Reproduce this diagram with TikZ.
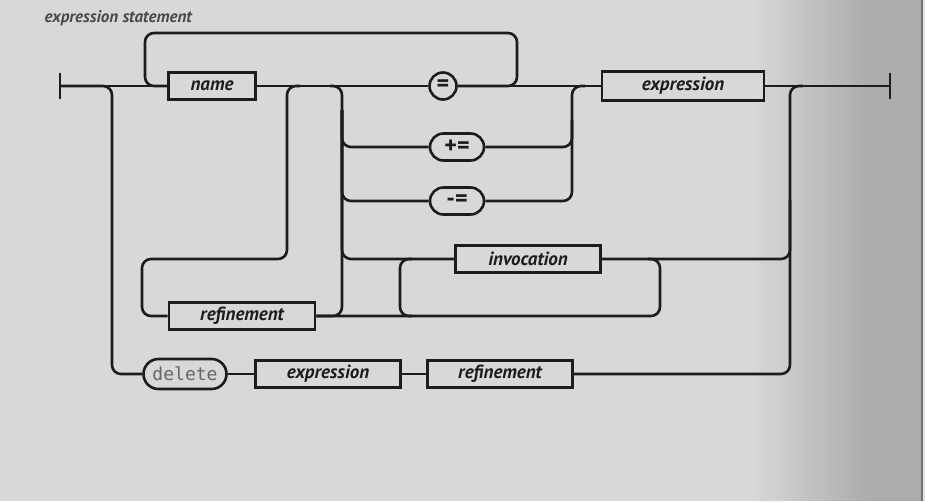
\documentclass[tikz,border=0pt]{standalone}
\usepackage{fontspec}
\setsansfont{PT Sans}
\newfontfamily\monofont{DejaVu Sans Mono}
\usetikzlibrary{positioning, shapes, arrows.meta}
\definecolor{paper}{RGB}{216,216,214}
\definecolor{paperdark}{RGB}{172,172,172}
\definecolor{ink}{RGB}{28,28,28}
\tikzset{
    rule/.style = {rectangle, draw=ink, line width=2.6pt, fill=paper, minimum width=86pt,
                        minimum height=27pt, inner sep=0pt, text=ink,
                        font=\fontsize{19}{19}\selectfont\sffamily\bfseries\itshape},
    literal/.style = {rectangle, rounded corners=13.5pt, draw=ink, line width=2.6pt, fill=paper,
                        minimum height=27pt, inner sep=0pt, text=ink, font=\fontsize{24}{24}\selectfont\sffamily\bfseries}
,
    track/.style = {draw=ink, line width=2.6pt, rounded corners=9pt}
}
\begin{document}
\begin{tikzpicture}[x=1pt, y=-1pt]
		\useasboundingbox (0,0) rectangle (925,501);
		\fill [paper] (0,0) rectangle (925,501);
		\foreach \i in {0,...,23} {
			\pgfmathtruncatemacro{\pct}{100*\i/23}
			\fill [paperdark!\pct!paper] (750+5*\i,0) rectangle (756+5*\i,501);
		}
		\fill [paperdark] (870,0) rectangle (921,501);
		\fill [black!55] (921,0) rectangle (923,501);
		\fill [paper!70!white] (923,0) rectangle (925,501);
		\node (title) [anchor=base west, text=ink!80, font=\fontsize{17}{17}\selectfont\sffamily\bfseries\itshape] at (41,22) {expression statement};
		\node (name) [rule, minimum width=87pt] at (212,86) {name};
		\node (eq) [literal, minimum width=27pt] at (443,86) {=};
		\node (plus) [literal, minimum width=54pt] at (457,147) {+=};
		\node (minus) [literal, minimum width=54pt] at (457,201) {-=};
		\node (expr) [rule, minimum width=162pt, minimum height=29pt] at (683,86) {expression};
		\node (inv) [rule, minimum width=145pt] at (528,259) {invocation};
		\node (ref) [rule, minimum width=146pt] at (242,316) {refinement};
		\node (del) [literal, minimum width=83pt, minimum height=30pt, rounded corners=15pt, text=black!60,
			font=\fontsize{18}{18}\selectfont\monofont] at (185,374) {delete};
		\node (dexpr) [rule, minimum width=145pt] at (328,374) {expression};
		\node (dref) [rule, minimum width=145pt] at (500,374) {refinement};
		\coordinate (start) at (60,86);
		\coordinate (stop) at (890,86);
		\coordinate (backtl) at (145,33);
		\coordinate (backbr) at (517,86);
		\coordinate (delc) at (112,374);
		\coordinate (refsplit) at (300,86);
		\coordinate (refmid) at (287,259);
		\coordinate (refleft) at (142,316);
		\coordinate (chl) at (342,86);
		\coordinate (chlin) at (330,86);
		\coordinate (chmid) at (342,110);
		\coordinate (chr) at (572,86);
		\coordinate (chrout) at (585,86);
		\coordinate (chrmid) at (572,120);
		\coordinate (invlt) at (412,259);
		\coordinate (looplb) at (400,316);
		\coordinate (looplbout) at (412,316);
		\coordinate (invrt) at (648,259);
		\coordinate (loopbr) at (660,316);
		\coordinate (outtop) at (790,86);
		\coordinate (outafter) at (803,86);
		\coordinate (outmid) at (790,200);
		\draw [track, rounded corners=0pt] ([yshift=13pt]start) -- ([yshift=-13pt]start);
		\draw [track, rounded corners=0pt] ([yshift=13pt]stop) -- ([yshift=-13pt]stop);
		\draw [track] (start) -- (name.west);
		\draw [track] (name.east) -- (eq.west);
		\draw [track] (eq.east) -- (expr.west);
		\draw [track] (expr.east) -- (stop);
		\draw [track] (name.west) -| (backtl) -| (backbr) -- (eq.east);
		\draw [track] (start) -| (delc) -- (del.west);
		\draw [track] (refsplit) -| (refmid) -| (refleft) -- (ref.west);
		\draw [track] (ref.east) -| (chl) -- (chlin);
		\draw [track] (chmid) |- (plus.west);
		\draw [track] (chmid) |- (minus.west);
		\draw [track] (chmid) |- (inv.west);
		\draw [track] (plus.east) -| (chr) -- (chrout);
		\draw [track] (minus.east) -| (chrmid);
		\draw [track] (invlt) -| (looplb) -- (looplbout);
		\draw [track] (invrt) -| (loopbr) -- (ref.east);
		\draw [track] (inv.east) -| (outmid);
		\draw [track] (dref.east) -| (outtop) -- (outafter);
		\draw [track] (del.east) -- (dexpr.west);
		\draw [track] (dexpr.east) -- (dref.west);
	\end{tikzpicture}
\end{document}
